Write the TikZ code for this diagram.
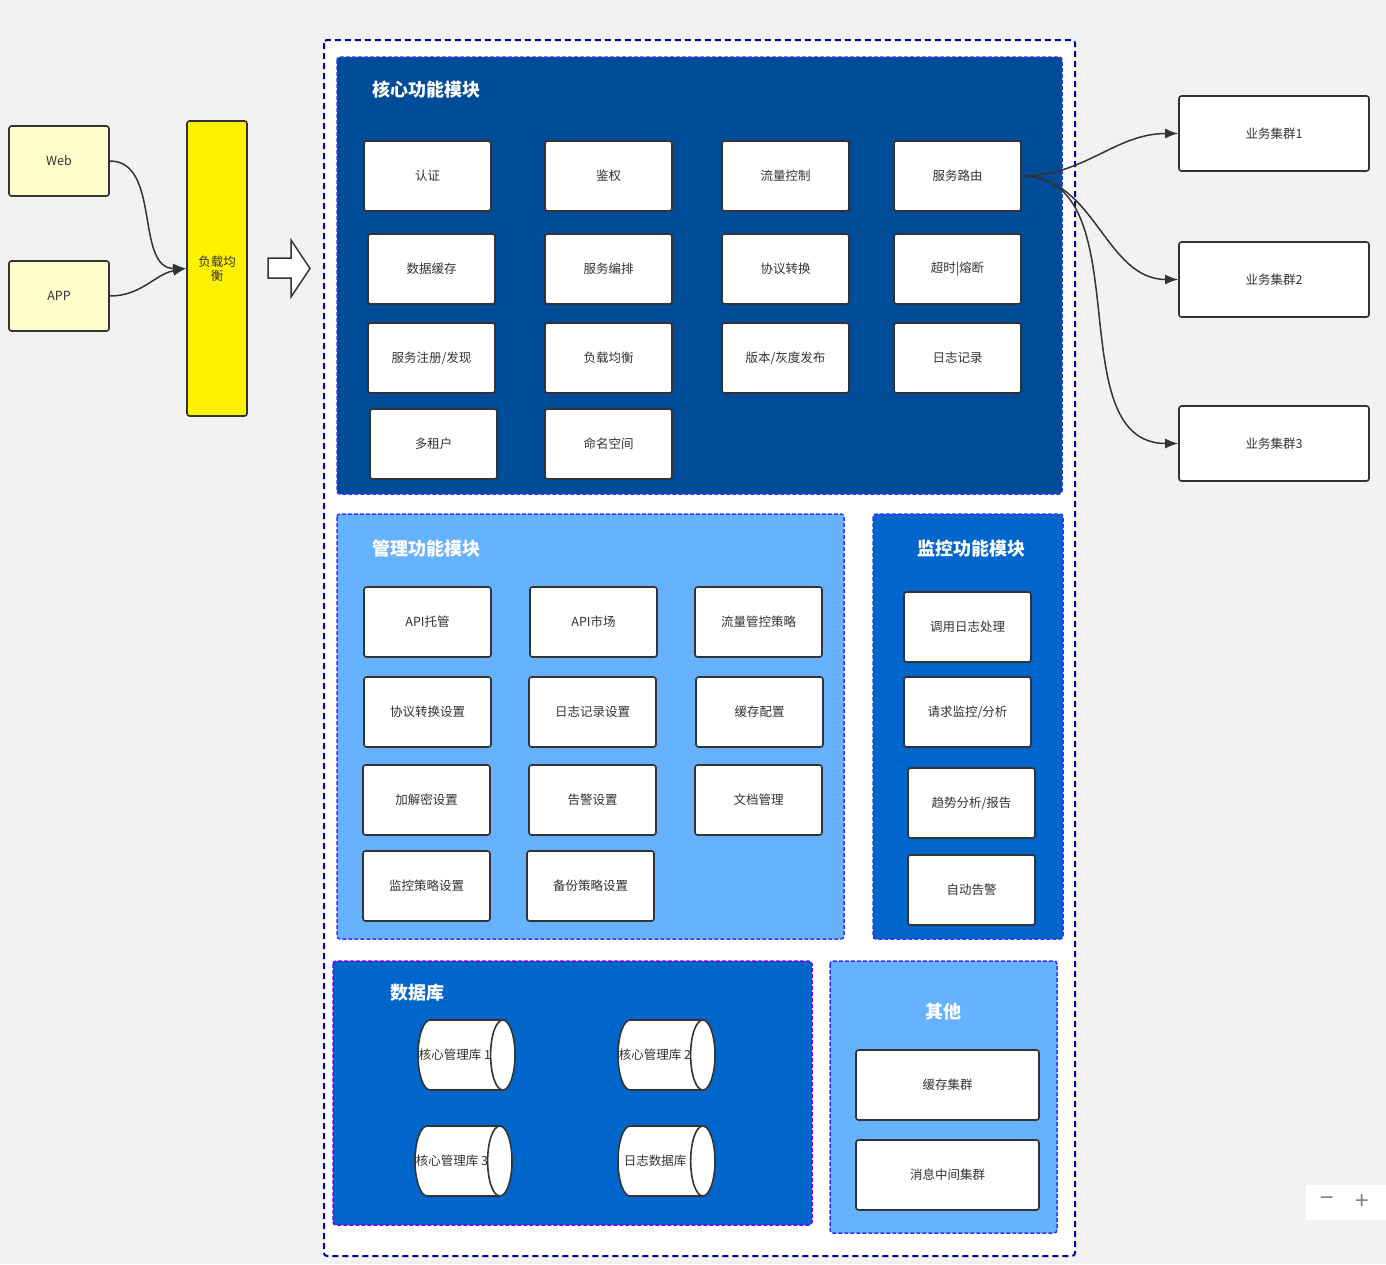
\documentclass[tikz,border=0pt]{standalone}
\usepackage{fontspec}
\setmainfont{Noto Sans CJK SC}
\usetikzlibrary{positioning, arrows.meta, shapes.geometric}
\definecolor{bggray}{HTML}{F2F2F2}
\definecolor{linegray}{HTML}{333333}
\definecolor{coreblue}{HTML}{004C99}
\definecolor{midblue}{HTML}{0066CC}
\definecolor{lightblue}{HTML}{66B2FF}
\definecolor{dashblue}{HTML}{3333FF}
\definecolor{outerblue}{HTML}{0000AA}
\definecolor{dbpurple}{HTML}{7F00FF}
\definecolor{paleyellow}{HTML}{FFFFCC}
\newcommand{\dblabel}[1]{\makebox[0pt]{\hspace*{-10pt}#1}}

\begin{document}
\begin{tikzpicture}[x=1pt, y=-1pt,
  box/.style={draw=linegray, line width=1.6, rounded corners=2.5, fill=white,
    minimum width=127, minimum height=70, inner sep=0, text=linegray,
    font=\fontsize{12.5}{14}\selectfont},
  panel/.style={draw=dashblue, line width=1.5, dash pattern=on 4 off 2, rounded corners=3},
  title/.style={text=white, font=\fontsize{18}{20}\selectfont\bfseries, inner sep=0},
  dbcyl/.style={cylinder, draw=linegray, line width=1.6, fill=white, aspect=2.1,
    minimum width=70, minimum height=97, inner sep=0, text=linegray,
    font=\fontsize{12.5}{14}\selectfont},
  link/.style={draw=linegray, line width=1.5, -{Latex[length=13,width=10]}}]

  % canvas
  \fill[bggray] (0,0) rectangle (1386,1264);
  \useasboundingbox (0,0) rectangle (1386,1264);

  % clients and load balancer
  \node[box, fill=paleyellow, minimum width=100] (web) at (59,161) {Web};
  \node[box, fill=paleyellow, minimum width=100] (app) at (59,296) {APP};
  \node[box, fill=yellow, minimum width=60, minimum height=295, align=center] (lb) at (217,268.5) {负载均\\衡};
  \draw[link] (web.east) to[out=0, in=180] (lb.west);
  \draw[link] (app.east) to[out=0, in=190] (lb.west);

  % block arrow
  \draw[draw=linegray, line width=1.5, fill=white]
    (268,258) -- (291,258) -- (291,240) -- (310,268.5) -- (291,297) -- (291,278) -- (268,278) -- cycle;

  % gateway container
  \draw[draw=outerblue, line width=2, dash pattern=on 6 off 4, rounded corners=3, fill=white]
    (324,40) rectangle (1075,1256);

  % core module
  \draw[panel, fill=coreblue] (337,57) rectangle (1062,494);
  \node[title, anchor=west] (coretitle) at (372,90) {核心功能模块};
  \node[box] (auth) at (427.5,176) {认证};
  \node[box] (authz) at (608.5,176) {鉴权};
  \node[box] (flowctl) at (785.5,176) {流量控制};
  \node[box] (route) at (957.5,176) {服务路由};
  \node[box] (datacache) at (431.5,269) {数据缓存};
  \node[box] (orch) at (608.5,269) {服务编排};
  \node[box] (proto) at (785.5,269) {协议转换};
  \node[box] (breaker) at (957.5,269) {超时|熔断};
  \node[box] (registry) at (431.5,358) {服务注册/发现};
  \node[box] (balance) at (608.5,358) {负载均衡};
  \node[box] (release) at (785.5,358) {版本/灰度发布};
  \node[box] (logging) at (957.5,358) {日志记录};
  \node[box] (tenant) at (433.5,444) {多租户};
  \node[box] (nspace) at (608.5,444) {命名空间};

  % management module
  \draw[panel, fill=lightblue] (337,514) rectangle (844,939);
  \node[title, anchor=west] (mgmttitle) at (372,549) {管理功能模块};
  \node[box] (apihost) at (427.5,622) {API托管};
  \node[box] (apimarket) at (593.5,622) {API市场};
  \node[box] (flowpolicy) at (758.5,622) {流量管控策略};
  \node[box] (protoset) at (427.5,712) {协议转换设置};
  \node[box] (logset) at (592.5,712) {日志记录设置};
  \node[box] (cacheset) at (759.5,712) {缓存配置};
  \node[box] (cryptset) at (426.5,800) {加解密设置};
  \node[box] (alarmset) at (592.5,800) {告警设置};
  \node[box] (docs) at (758.5,800) {文档管理};
  \node[box] (monset) at (426.5,886) {监控策略设置};
  \node[box] (backupset) at (590.5,886) {备份策略设置};

  % monitoring module
  \draw[panel, fill=midblue] (873,514) rectangle (1063,939);
  \node[title] (montitle) at (971,549) {监控功能模块};
  \node[box] (calllog) at (967.5,627) {调用日志处理};
  \node[box] (reqmon) at (967.5,712) {请求监控/分析};
  \node[box] (trend) at (971.5,803) {趋势分析/报告};
  \node[box] (autoalarm) at (971.5,890) {自动告警};

  % database
  \draw[panel, draw=dbpurple, fill=midblue] (333,961) rectangle (812,1225);
  \node[title, anchor=west] (dbtitle) at (390,993) {数据库};
  \node[dbcyl] (db1) at (460,1055) {\dblabel{核心管理库 1}};
  \node[dbcyl] (db2) at (660,1055) {\dblabel{核心管理库 2}};
  \node[dbcyl] (db3) at (457,1161) {\dblabel{核心管理库 3}};
  \node[dbcyl] (logdb) at (660,1161) {\dblabel{日志数据库}};

  % others
  \draw[panel, fill=lightblue] (830,961) rectangle (1057,1233);
  \node[title] (othertitle) at (943,1012) {其他};
  \node[box, minimum width=183] (cachecl) at (947.5,1085) {缓存集群};
  \node[box, minimum width=183] (mqcl) at (947.5,1175) {消息中间集群};

  % business clusters
  \foreach \i/\y in {1/133.5, 2/279.5, 3/443.5} {
    \node[box, minimum width=190, minimum height=75] (cl\i) at (1274,\y) {业务集群\i};
    \draw[link] (route.east) to[out=0, in=180] (cl\i.west);
  }

  % zoom control
  \fill[white] (1306,1185) rectangle (1386,1220);
  \node[text=gray, font=\fontsize{24}{24}\selectfont, inner sep=0] (zoomout) at (1327,1202) {−};
  \node[text=gray, font=\fontsize{24}{24}\selectfont, inner sep=0] (zoomin) at (1362,1202) {+};
\end{tikzpicture}
\end{document}
